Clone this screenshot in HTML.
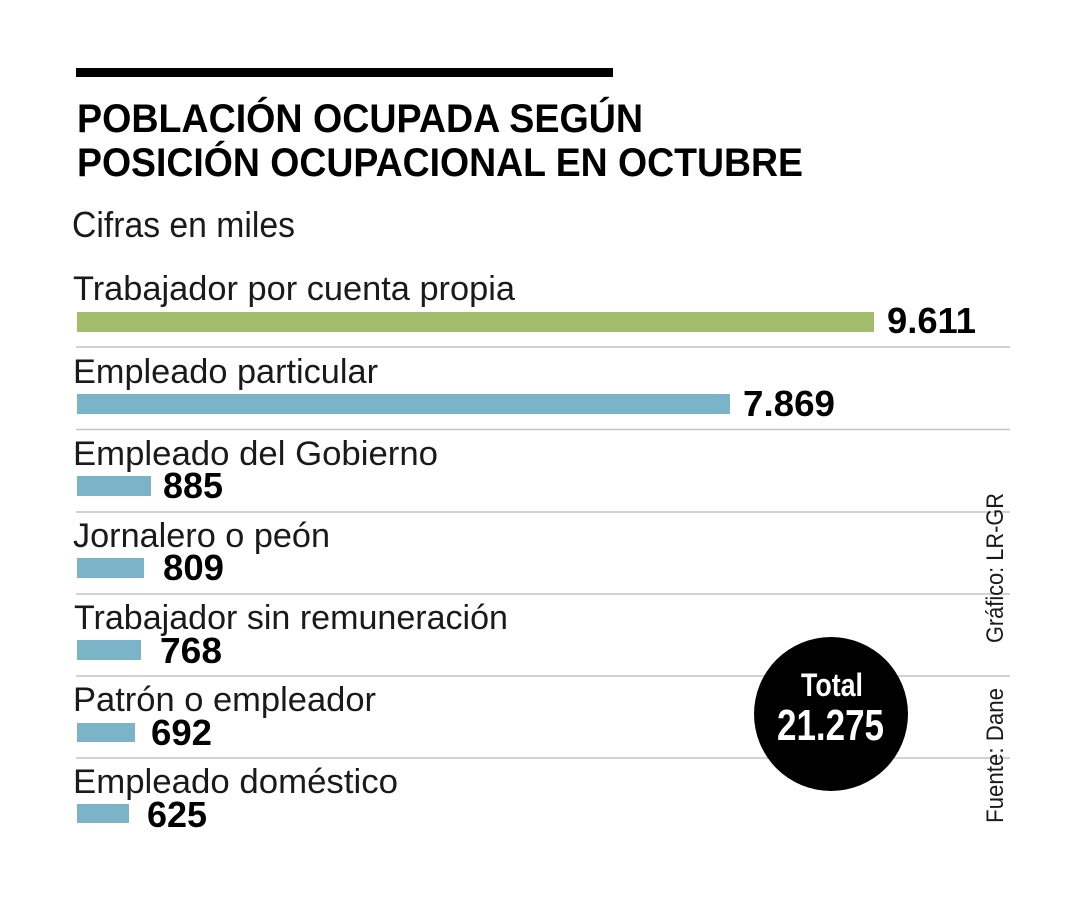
<!DOCTYPE html>
<html>
<head>
<meta charset="utf-8">
<style>
  html, body { margin: 0; padding: 0; background: #ffffff; }
  body { width: 1080px; height: 900px; overflow: hidden; }
  svg { display: block; }
  .lbl { font-family: "Liberation Sans", sans-serif; font-size: 34px; fill: #1a1a1a; }
  .val { font-family: "Liberation Sans", sans-serif; font-size: 36px; font-weight: bold; fill: #000; }
</style>
</head>
<body>
<svg width="1080" height="900" viewBox="0 0 1080 900" xmlns="http://www.w3.org/2000/svg">
  <rect x="0" y="0" width="1080" height="900" fill="#ffffff"/>
  <!-- top rule -->
  <rect x="76" y="68" width="537" height="9" fill="#000"/>
  <!-- title -->
  <text x="77" y="132" font-family="Liberation Sans, sans-serif" font-size="40" font-weight="bold" fill="#000" textLength="566" lengthAdjust="spacingAndGlyphs">POBLACIÓN OCUPADA SEGÚN</text>
  <text x="77" y="176" font-family="Liberation Sans, sans-serif" font-size="40" font-weight="bold" fill="#000" textLength="726" lengthAdjust="spacingAndGlyphs">POSICIÓN OCUPACIONAL EN OCTUBRE</text>
  <text x="72" y="237" class="lbl" font-size="36" textLength="223" lengthAdjust="spacingAndGlyphs" style="font-size:36px">Cifras en miles</text>

  <!-- separator lines -->
  <g stroke="#c4c4c4" stroke-width="1.5">
    <line x1="76" y1="347" x2="1010" y2="347"/>
    <line x1="76" y1="429.5" x2="1010" y2="429.5"/>
    <line x1="76" y1="512" x2="1010" y2="512"/>
    <line x1="76" y1="594" x2="1010" y2="594"/>
    <line x1="76" y1="676" x2="1010" y2="676"/>
    <line x1="76" y1="758" x2="1010" y2="758"/>
  </g>

  <!-- Row 0 -->
  <text x="73" y="300" class="lbl" textLength="442" lengthAdjust="spacingAndGlyphs">Trabajador por cuenta propia</text>
  <rect x="77" y="312" width="797" height="20" fill="#a4bd6c"/>
  <text x="887" y="333" class="val" textLength="89" lengthAdjust="spacingAndGlyphs">9.611</text>

  <!-- Row 1 -->
  <text x="73" y="383" class="lbl" textLength="305" lengthAdjust="spacingAndGlyphs">Empleado particular</text>
  <rect x="77" y="394" width="653" height="20" fill="#7bb3c7"/>
  <text x="743" y="416" class="val" textLength="92" lengthAdjust="spacingAndGlyphs">7.869</text>

  <!-- Row 2 -->
  <text x="73" y="465" class="lbl" textLength="365" lengthAdjust="spacingAndGlyphs">Empleado del Gobierno</text>
  <rect x="77" y="476" width="74" height="20" fill="#7bb3c7"/>
  <text x="163" y="498" class="val" textLength="60" lengthAdjust="spacingAndGlyphs">885</text>

  <!-- Row 3 -->
  <text x="73" y="547" class="lbl" textLength="257" lengthAdjust="spacingAndGlyphs">Jornalero o peón</text>
  <rect x="77" y="558" width="67" height="20" fill="#7bb3c7"/>
  <text x="163" y="580" class="val" textLength="61" lengthAdjust="spacingAndGlyphs">809</text>

  <!-- Row 4 -->
  <text x="74" y="629" class="lbl" textLength="434" lengthAdjust="spacingAndGlyphs">Trabajador sin remuneración</text>
  <rect x="77" y="640" width="64" height="20" fill="#7bb3c7"/>
  <text x="160" y="663" class="val" textLength="62" lengthAdjust="spacingAndGlyphs">768</text>

  <!-- Row 5 -->
  <text x="73" y="711" class="lbl" textLength="303" lengthAdjust="spacingAndGlyphs">Patrón o empleador</text>
  <rect x="77" y="723" width="58" height="19" fill="#7bb3c7"/>
  <text x="151" y="745" class="val" textLength="61" lengthAdjust="spacingAndGlyphs">692</text>

  <!-- Row 6 -->
  <text x="73" y="793" class="lbl" textLength="325" lengthAdjust="spacingAndGlyphs">Empleado doméstico</text>
  <rect x="77" y="804" width="52" height="19" fill="#7bb3c7"/>
  <text x="147" y="827" class="val" textLength="60" lengthAdjust="spacingAndGlyphs">625</text>

  <!-- Total circle -->
  <circle cx="831" cy="714" r="77" fill="#000"/>
  <text x="801" y="696" font-family="Liberation Sans, sans-serif" font-size="32" font-weight="bold" fill="#fff" textLength="62" lengthAdjust="spacingAndGlyphs">Total</text>
  <text x="777" y="740" font-family="Liberation Sans, sans-serif" font-size="44" font-weight="bold" fill="#fff" textLength="107" lengthAdjust="spacingAndGlyphs">21.275</text>

  <!-- vertical credits -->
  <text transform="translate(1003,643) rotate(-90)" font-family="Liberation Sans, sans-serif" font-size="24" fill="#1a1a1a" textLength="150" lengthAdjust="spacingAndGlyphs">Gráfico: LR-GR</text>
  <text transform="translate(1003,823) rotate(-90)" font-family="Liberation Sans, sans-serif" font-size="24" fill="#1a1a1a" textLength="135" lengthAdjust="spacingAndGlyphs">Fuente: Dane</text>
</svg>
</body>
</html>
